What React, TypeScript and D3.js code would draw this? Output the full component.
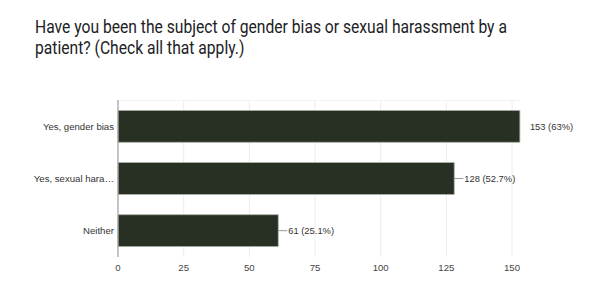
import React from "react";
import * as d3 from "d3";

const titleLines = [
  "Have you been the subject of gender bias or sexual harassment by a",
  "patient? (Check all that apply.)",
];
const categories = ["Yes, gender bias", "Yes, sexual hara…", "Neither"];
const counts = [153, 128, 61];
const labels = ["153 (63%)", "128 (52.7%)", "61 (25.1%)"];
const leaders = [false, true, true];
const ticks = [0, 25, 50, 75, 100, 125, 150];

export default function App() {
  const W = 600;
  const H = 300;
  const x = d3.scaleLinear().domain([0, 150]).range([118, 512]);
  const y = d3
    .scaleBand<string>()
    .domain(categories)
    .range([100, 257])
    .paddingInner(0.39)
    .paddingOuter(0.2);
  const font = "'Liberation Sans', Arial, sans-serif";
  return (
    <svg
      width={W}
      height={H}
      style={{ position: "absolute", left: 0, top: 0, background: "#fff" }}
    >
      <g transform="translate(35,0) scale(0.895,1)">
        {titleLines.map((t, i) => (
          <text
            key={i}
            x={0}
            y={33.5 + i * 21}
            fontFamily="Roboto, sans-serif"
            fontSize={17.5}
            fill="#202124"
          >
            {t}
          </text>
        ))}
      </g>
      {/* gridlines */}
      {ticks.slice(1).map((t) => (
        <line
          key={t}
          x1={x(t)}
          x2={x(t)}
          y1={100}
          y2={257}
          stroke="#ececec"
          strokeWidth={1}
        />
      ))}
      <line x1={118} x2={520} y1={100.5} y2={100.5} stroke="#f3f3f3" />
      {/* bars */}
      {categories.map((c, i) => (
        <rect
          key={c}
          x={x(0)}
          y={y(c)!}
          width={x(counts[i]) - x(0)}
          height={y.bandwidth()}
          fill="#273022"
          stroke="#a9aea6"
          strokeWidth={0.8}
        />
      ))}
      {/* axis line */}
      <line x1={118} x2={118} y1={100} y2={257} stroke="#9e9e9e" strokeWidth={1.2} />
      {/* category labels */}
      {categories.map((c) => (
        <text
          key={c}
          x={114}
          y={y(c)! + y.bandwidth() / 2}
          dy="0.35em"
          textAnchor="end"
          fontFamily={font}
          fontSize={9.6}
          fill="#333"
        >
          {c}
        </text>
      ))}
      {/* value labels */}
      {categories.map((c, i) => {
        const cy = y(c)! + y.bandwidth() / 2;
        const xe = x(counts[i]);
        return (
          <g key={c}>
            {leaders[i] && (
              <line x1={xe} x2={xe + 9} y1={cy} y2={cy} stroke="#999" strokeWidth={1} />
            )}
            <text
              x={xe + 10}
              y={cy}
              dy="0.35em"
              fontFamily={font}
              fontSize={9.4}
              fill="#333"
            >
              {labels[i]}
            </text>
          </g>
        );
      })}
      {/* x tick labels */}
      {ticks.map((t) => (
        <text
          key={t}
          x={x(t)}
          y={268}
          dy="0.35em"
          textAnchor="middle"
          fontFamily={font}
          fontSize={9.6}
          fill="#444"
        >
          {t}
        </text>
      ))}
    </svg>
  );
}
